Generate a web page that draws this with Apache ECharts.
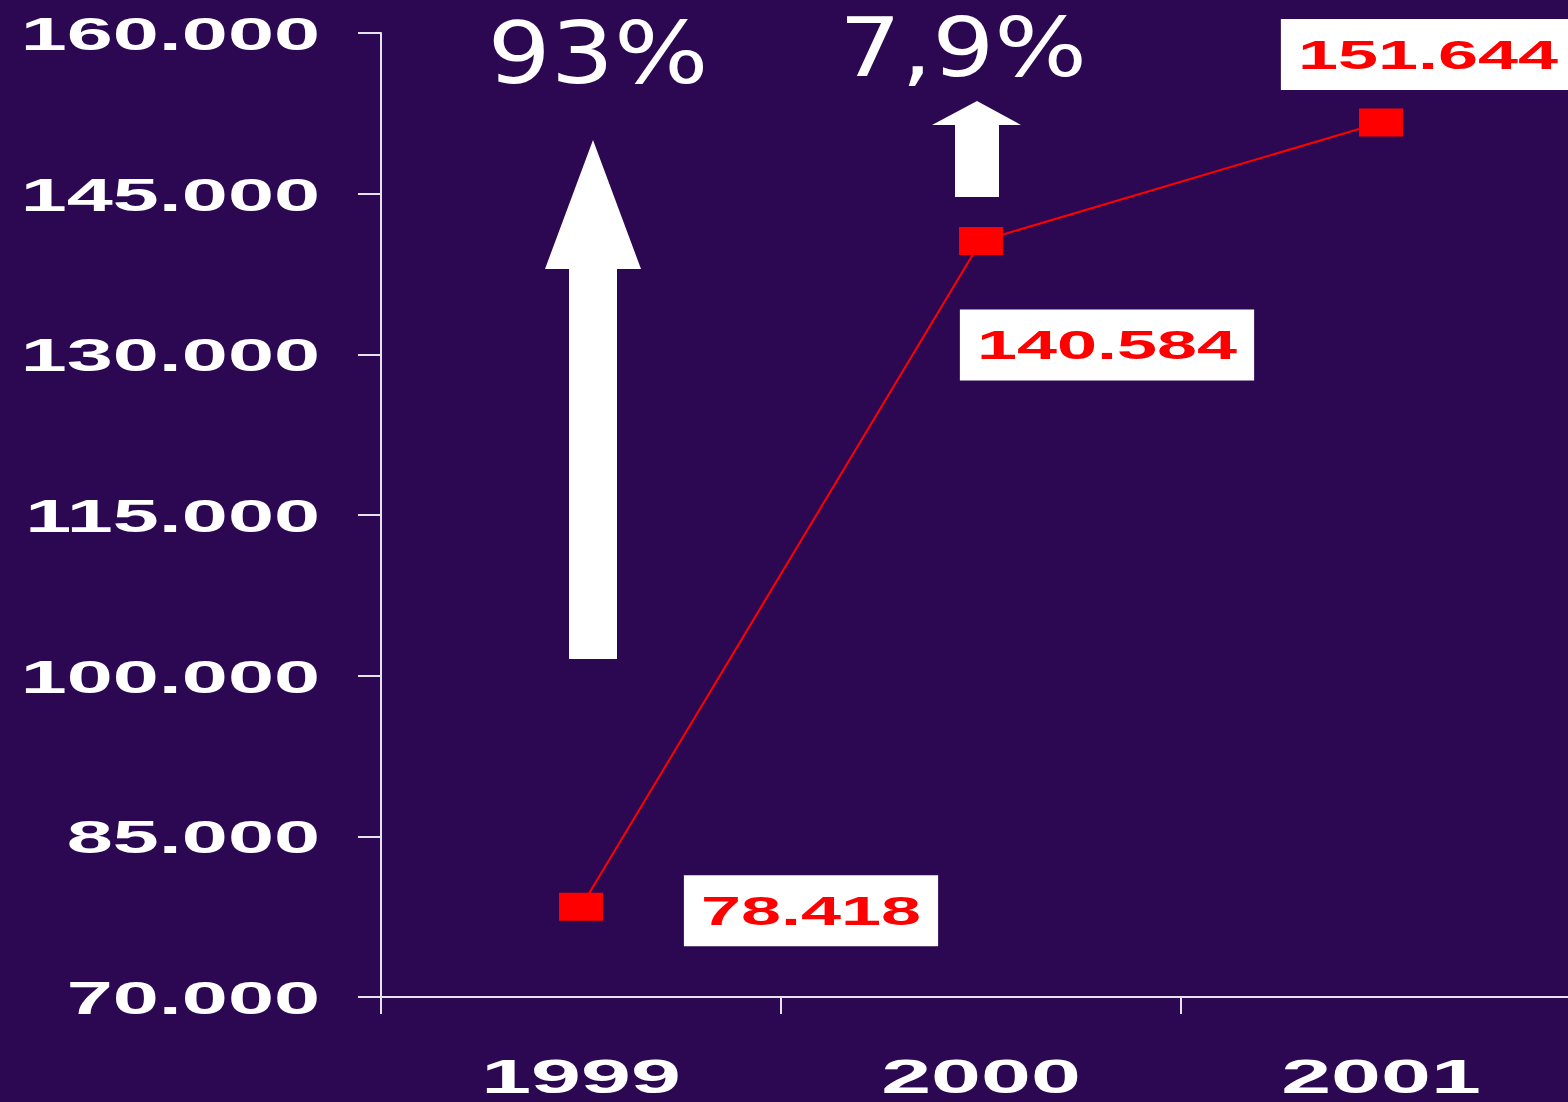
<!DOCTYPE html>
<html><head><meta charset="utf-8">
<script src="https://cdn.jsdelivr.net/npm/echarts@6/dist/echarts.min.js"></script>
<style>html,body{margin:0;padding:0;background:#2c0852;}#main{width:1568px;height:1102px;}</style>
</head><body><div id="main"></div>
<script>
// ---- data ----
const categories = ['1999', '2000', '2001'];
const values = [78418, 140584, 151644];
const valueLabels = ['78.418', '140.584', '151.644'];
const yTicks = [70000, 85000, 100000, 115000, 130000, 145000, 160000];
const yTickLabels = ['70.000', '85.000', '100.000', '115.000', '130.000', '145.000', '160.000'];
const growthLabels = ['93%', '7,9%'];

// ---- styles ----
const BG = '#2c0852';
const AXIS = '#e6e3ee';
const STRETCH = 1.8;
const FONT = '"Liberation Sans", Arial, sans-serif';
const labelOffsets = [[230, 4], [126, 104], [47, -68]];

const chart = echarts.init(document.getElementById('main'), null, {renderer: 'svg', width: 1568, height: 1102});
chart.setOption({
  backgroundColor: BG,
  animation: false,
  grid: {left: 381, top: 33, width: 1200, height: 964, containLabel: false, outerBoundsMode: 'none'},
  xAxis: {
    type: 'category', data: categories, boundaryGap: true,
    axisLine: {show: true, lineStyle: {color: AXIS, width: 2}},
    axisTick: {show: true, length: 17, lineStyle: {color: AXIS, width: 2}},
    axisLabel: {show: false}, splitLine: {show: false}
  },
  yAxis: {
    type: 'value', min: 70000, max: 160000, interval: 15000,
    axisLine: {show: true, lineStyle: {color: AXIS, width: 2}},
    axisTick: {show: true, length: 23, lineStyle: {color: AXIS, width: 2}},
    axisLabel: {show: false}, splitLine: {show: false}
  },
  series: [{
    type: 'line', data: values, symbol: 'rect', symbolSize: [44, 28], showAllSymbol: true,
    lineStyle: {color: '#ff0000', width: 2}, itemStyle: {color: '#ff0000'},
    label: {show: false}, z: 3
  }]
});

const measureCtx = document.createElement('canvas').getContext('2d');
function textWidth(t, font) { measureCtx.font = font; return measureCtx.measureText(t).width; }

const g = [];
// y tick labels
yTicks.forEach((v, i) => {
  const y = chart.convertToPixel({yAxisIndex: 0}, v);
  g.push({type: 'text', x: 320, y: y + 1, scaleX: STRETCH, z: 10,
    style: {text: yTickLabels[i], fill: '#ffffff', font: 'bold 46px ' + FONT, textAlign: 'right', textVerticalAlign: 'middle'}});
});
// x category labels
categories.forEach((c) => {
  const x = chart.convertToPixel({xAxisIndex: 0}, c);
  g.push({type: 'text', x: x, y: 1076, scaleX: 1.87, z: 10,
    style: {text: c, fill: '#ffffff', font: 'bold 48px ' + FONT, textAlign: 'center', textVerticalAlign: 'middle'}});
});
// value labels (white boxes with red text)
values.forEach((v, i) => {
  const p = chart.convertToPixel({gridIndex: 0}, [categories[i], v]);
  const cx = p[0] + labelOffsets[i][0], cy = p[1] + labelOffsets[i][1];
  const lf = 'bold 40px ' + FONT;
  const w = textWidth(valueLabels[i], lf) * STRETCH + 34, h = 71;
  g.push({type: 'rect', z: 20, shape: {x: cx - w / 2, y: cy - h / 2, width: w, height: h}, style: {fill: '#ffffff'}});
  g.push({type: 'text', x: cx, y: cy, scaleX: STRETCH, z: 21,
    style: {text: valueLabels[i], fill: '#ff0000', font: lf, textAlign: 'center', textVerticalAlign: 'middle'}});
});
// growth annotations
g.push({type: 'text', x: 598, y: 54, scaleX: 1.17, z: 10,
  style: {text: growthLabels[0], fill: '#ffffff', font: '85px "DejaVu Sans", sans-serif', textAlign: 'center', textVerticalAlign: 'middle'}});
g.push({type: 'text', x: 963, y: 47, scaleX: 1.19, z: 10,
  style: {text: growthLabels[1], fill: '#ffffff', font: '82px "DejaVu Sans", sans-serif', textAlign: 'center', textVerticalAlign: 'middle'}});
// arrows
g.push({type: 'polygon', z: 10, shape: {points: [[593,140],[641,269],[617,269],[617,659],[569,659],[569,269],[545,269]]}, style: {fill: '#ffffff'}});
g.push({type: 'polygon', z: 10, shape: {points: [[977,101],[1021,125],[999,125],[999,197],[955,197],[955,125],[932,125]]}, style: {fill: '#ffffff'}});

chart.setOption({graphic: g});
</script>
</body></html>
